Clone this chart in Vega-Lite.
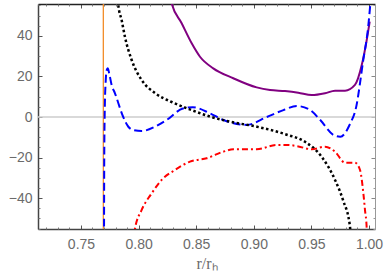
{
  "$schema": "https://vega.github.io/schema/vega-lite/v6.json",
  "width": 337,
  "height": 225,
  "autosize": {"type": "none"},
  "padding": {"left": 38, "top": 4, "right": 11, "bottom": 50},
  "background": "white",
  "view": {"stroke": null},
  "config": {
    "font": "Liberation Sans",
    "axis": {"labelFont": "Liberation Sans", "labelFontSize": 14, "labelColor": "#6b6b6b", "grid": false, "titleFont": "Liberation Sans"}
  },
  "datasets": {
    "curves": [
      {"s": "purple", "x": 0.8270, "y": 60},
      {"s": "purple", "x": 0.8287, "y": 56},
      {"s": "purple", "x": 0.8374, "y": 46.2},
      {"s": "purple", "x": 0.8461, "y": 36.3},
      {"s": "purple", "x": 0.8533, "y": 29.7},
      {"s": "purple", "x": 0.8648, "y": 24},
      {"s": "purple", "x": 0.8822, "y": 19.1},
      {"s": "purple", "x": 0.9025, "y": 14.6},
      {"s": "purple", "x": 0.9141, "y": 13.3},
      {"s": "purple", "x": 0.9271, "y": 12.8},
      {"s": "purple", "x": 0.9386, "y": 12},
      {"s": "purple", "x": 0.9503, "y": 10.8},
      {"s": "purple", "x": 0.9618, "y": 11.7},
      {"s": "purple", "x": 0.9705, "y": 13},
      {"s": "purple", "x": 0.9792, "y": 13},
      {"s": "purple", "x": 0.9878, "y": 15.8},
      {"s": "purple", "x": 0.9937, "y": 25.6},
      {"s": "purple", "x": 0.9980, "y": 37.9},
      {"s": "purple", "x": 1.0006, "y": 47},

      {"s": "blue", "x": 0.7700, "y": -60},
      {"s": "blue", "x": 0.7702, "y": -20},
      {"s": "blue", "x": 0.7707, "y": 5},
      {"s": "blue", "x": 0.7714, "y": 17},
      {"s": "blue", "x": 0.7723, "y": 23},
      {"s": "blue", "x": 0.7732, "y": 24},
      {"s": "blue", "x": 0.7745, "y": 21.5},
      {"s": "blue", "x": 0.7765, "y": 16},
      {"s": "blue", "x": 0.7795, "y": 11.7},
      {"s": "blue", "x": 0.7867, "y": 0},
      {"s": "blue", "x": 0.7911, "y": -4.8},
      {"s": "blue", "x": 0.7960, "y": -6.5},
      {"s": "blue", "x": 0.8027, "y": -6.9},
      {"s": "blue", "x": 0.8142, "y": -4.8},
      {"s": "blue", "x": 0.8243, "y": -1.5},
      {"s": "blue", "x": 0.8385, "y": 4.2},
      {"s": "blue", "x": 0.8470, "y": 4.8},
      {"s": "blue", "x": 0.8620, "y": 1.8},
      {"s": "blue", "x": 0.8736, "y": -1.5},
      {"s": "blue", "x": 0.8939, "y": -3.9},
      {"s": "blue", "x": 0.9113, "y": 0},
      {"s": "blue", "x": 0.9257, "y": 3.4},
      {"s": "blue", "x": 0.9374, "y": 5.4},
      {"s": "blue", "x": 0.9490, "y": 3.4},
      {"s": "blue", "x": 0.9577, "y": -1.5},
      {"s": "blue", "x": 0.9693, "y": -8.9},
      {"s": "blue", "x": 0.9751, "y": -9.7},
      {"s": "blue", "x": 0.9838, "y": -3.1},
      {"s": "blue", "x": 0.9885, "y": 4},
      {"s": "blue", "x": 0.9950, "y": 28},
      {"s": "blue", "x": 0.9993, "y": 44.5},
      {"s": "blue", "x": 1.0015, "y": 58},

      {"s": "black", "x": 0.7818, "y": 60},
      {"s": "black", "x": 0.7824, "y": 55.2},
      {"s": "black", "x": 0.7853, "y": 47.8},
      {"s": "black", "x": 0.7882, "y": 39.4},
      {"s": "black", "x": 0.7940, "y": 28.1},
      {"s": "black", "x": 0.8027, "y": 18.2},
      {"s": "black", "x": 0.8142, "y": 11.8},
      {"s": "black", "x": 0.8287, "y": 7.4},
      {"s": "black", "x": 0.8461, "y": 3.4},
      {"s": "black", "x": 0.8620, "y": 0.2},
      {"s": "black", "x": 0.8793, "y": -2.3},
      {"s": "black", "x": 0.9028, "y": -4.8},
      {"s": "black", "x": 0.9280, "y": -8.6},
      {"s": "black", "x": 0.9444, "y": -12.2},
      {"s": "black", "x": 0.9589, "y": -19.6},
      {"s": "black", "x": 0.9705, "y": -31},
      {"s": "black", "x": 0.9774, "y": -40.9},
      {"s": "black", "x": 0.9835, "y": -54},
      {"s": "black", "x": 0.9842, "y": -60},

      {"s": "red", "x": 0.7962, "y": -60},
      {"s": "red", "x": 0.7969, "y": -55},
      {"s": "red", "x": 0.8027, "y": -45.8},
      {"s": "red", "x": 0.8114, "y": -37.6},
      {"s": "red", "x": 0.8200, "y": -31},
      {"s": "red", "x": 0.8316, "y": -26.1},
      {"s": "red", "x": 0.8446, "y": -22},
      {"s": "red", "x": 0.8591, "y": -20.3},
      {"s": "red", "x": 0.8735, "y": -17.1},
      {"s": "red", "x": 0.8822, "y": -15.9},
      {"s": "red", "x": 0.9025, "y": -15.9},
      {"s": "red", "x": 0.9199, "y": -13.8},
      {"s": "red", "x": 0.9300, "y": -13.8},
      {"s": "red", "x": 0.9386, "y": -14.5},
      {"s": "red", "x": 0.9503, "y": -15.9},
      {"s": "red", "x": 0.9618, "y": -14.6},
      {"s": "red", "x": 0.9705, "y": -17.1},
      {"s": "red", "x": 0.9792, "y": -22.5},
      {"s": "red", "x": 0.9878, "y": -22.5},
      {"s": "red", "x": 0.9922, "y": -26.1},
      {"s": "red", "x": 0.9951, "y": -37.6},
      {"s": "red", "x": 0.9965, "y": -45.8},
      {"s": "red", "x": 0.9980, "y": -54.8},
      {"s": "red", "x": 0.9983, "y": -60}
    ],
    "guides": [
      {"kind": "zero", "y": 0},
      {"kind": "orange", "x": 0.7694}
    ]
  },
  "resolve": {"axis": {"x": "independent", "y": "independent"}},
  "layer": [
    {
      "data": {"name": "guides"},
      "transform": [{"filter": "datum.kind === 'zero'"}],
      "mark": {"type": "rule", "color": "#cccccc", "strokeWidth": 1.5},
      "encoding": {
        "y": {"field": "y", "type": "quantitative", "scale": {"domain": [-55.2, 55.7], "nice": false, "zero": false}, "axis": null}
      }
    },
    {
      "data": {"name": "guides"},
      "transform": [{"filter": "datum.kind === 'orange'"}],
      "mark": {"type": "rule", "color": "#f28c28", "strokeWidth": 1.3},
      "encoding": {
        "x": {"field": "x", "type": "quantitative", "scale": {"domain": [0.7127, 1.0052], "nice": false, "zero": false}, "axis": null}
      }
    },
    {
      "data": {"name": "curves"},
      "transform": [{"filter": "datum.s === 'purple'"}],
      "mark": {"type": "line", "color": "#800080", "strokeWidth": 2, "clip": true, "interpolate": "monotone"},
      "encoding": {
        "x": {"field": "x", "type": "quantitative", "scale": {"domain": [0.7127, 1.0052], "nice": false, "zero": false},
          "axis": {"orient": "bottom", "values": [0.75, 0.8, 0.85, 0.9, 0.95, 1.0], "format": ".2f", "tickSize": -4, "tickColor": "#555555", "tickWidth": 1, "domainColor": "#444444", "domainWidth": 1.5, "labelPadding": 12, "title": "r/rₕ", "titleFont": "Liberation Serif", "titleFontSize": 16, "titleFontWeight": "normal", "titleColor": "#6b6b6b", "titlePadding": 4}},
        "y": {"field": "y", "type": "quantitative", "scale": {"domain": [-55.2, 55.7], "nice": false, "zero": false},
          "axis": {"orient": "left", "values": [-40, -20, 0, 20, 40], "tickSize": -4, "tickColor": "#555555", "tickWidth": 1, "domainColor": "#444444", "domainWidth": 1.5, "labelPadding": 10, "title": null}}
      }
    },
    {
      "data": {"name": "curves"},
      "transform": [{"filter": "datum.s === 'blue'"}],
      "mark": {"type": "line", "color": "#0000ff", "strokeWidth": 2, "strokeDash": [8, 4], "clip": true, "interpolate": "monotone"},
      "encoding": {
        "x": {"field": "x", "type": "quantitative", "scale": {"domain": [0.7127, 1.0052], "nice": false, "zero": false},
          "axis": {"orient": "bottom", "values": [0.72, 0.73, 0.74, 0.76, 0.77, 0.78, 0.79, 0.81, 0.82, 0.83, 0.84, 0.86, 0.87, 0.88, 0.89, 0.91, 0.92, 0.93, 0.94, 0.96, 0.97, 0.98, 0.99], "labels": false, "domain": false, "tickSize": -2, "tickColor": "#777777", "title": null}},
        "y": {"field": "y", "type": "quantitative", "scale": {"domain": [-55.2, 55.7], "nice": false, "zero": false},
          "axis": {"orient": "left", "values": [-55, -50, -45, -35, -30, -25, -15, -10, -5, 5, 10, 15, 25, 30, 35, 45, 50, 55], "labels": false, "domain": false, "tickSize": -2, "tickColor": "#777777", "title": null}}
      }
    },
    {
      "data": {"name": "curves"},
      "transform": [{"filter": "datum.s === 'black'"}],
      "mark": {"type": "line", "color": "#000000", "strokeWidth": 2.5, "strokeDash": [2.5, 2.5], "clip": true, "interpolate": "monotone"},
      "encoding": {
        "x": {"field": "x", "type": "quantitative", "scale": {"domain": [0.7127, 1.0052], "nice": false, "zero": false},
          "axis": {"orient": "top", "values": [0.75, 0.8, 0.85, 0.9, 0.95, 1.0], "labels": false, "tickSize": -4, "tickColor": "#555555", "domainColor": "#222222", "domainWidth": 1.5, "title": null}},
        "y": {"field": "y", "type": "quantitative", "scale": {"domain": [-55.2, 55.7], "nice": false, "zero": false},
          "axis": {"orient": "right", "values": [-40, -20, 0, 20, 40], "labels": false, "tickSize": -4, "tickColor": "#888888", "domainColor": "#999999", "domainWidth": 1, "title": null}}
      }
    },
    {
      "data": {"name": "curves"},
      "transform": [{"filter": "datum.s === 'red'"}],
      "mark": {"type": "line", "color": "#ff0000", "strokeWidth": 2, "strokeDash": [6, 3, 2, 3], "clip": true, "interpolate": "monotone"},
      "encoding": {
        "x": {"field": "x", "type": "quantitative", "scale": {"domain": [0.7127, 1.0052], "nice": false, "zero": false},
          "axis": {"orient": "top", "values": [0.72, 0.73, 0.74, 0.76, 0.77, 0.78, 0.79, 0.81, 0.82, 0.83, 0.84, 0.86, 0.87, 0.88, 0.89, 0.91, 0.92, 0.93, 0.94, 0.96, 0.97, 0.98, 0.99], "labels": false, "domain": false, "tickSize": -2, "tickColor": "#777777", "title": null}},
        "y": {"field": "y", "type": "quantitative", "scale": {"domain": [-55.2, 55.7], "nice": false, "zero": false},
          "axis": {"orient": "right", "values": [-55, -50, -45, -35, -30, -25, -15, -10, -5, 5, 10, 15, 25, 30, 35, 45, 50, 55], "labels": false, "domain": false, "tickSize": -2, "tickColor": "#999999", "title": null}}
      }
    }
  ]
}
